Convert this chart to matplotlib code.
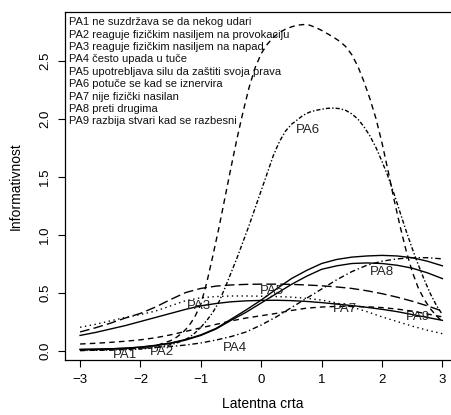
import numpy as np
import matplotlib.pyplot as plt

plt.rcParams['font.family'] = ['Liberation Sans', 'DejaVu Sans']

# theta grid for the flatter curves
theta = np.arange(-3, 3.01, 0.25)

solid_a = [0.010, 0.012, 0.015, 0.020, 0.030, 0.045, 0.065, 0.095, 0.135, 0.190, 0.270, 0.350, 0.435,
           0.530, 0.620, 0.690, 0.750, 0.785, 0.805, 0.815, 0.820, 0.815, 0.800, 0.770, 0.730]
solid_b = [0.008, 0.010, 0.014, 0.020, 0.028, 0.042, 0.062, 0.090, 0.130, 0.185, 0.260, 0.330, 0.410,
           0.490, 0.570, 0.640, 0.700, 0.730, 0.750, 0.755, 0.750, 0.735, 0.710, 0.670, 0.620]
solid_c = [0.130, 0.155, 0.185, 0.215, 0.250, 0.285, 0.320, 0.355, 0.385, 0.405, 0.420, 0.428, 0.432,
           0.433, 0.430, 0.423, 0.413, 0.400, 0.388, 0.372, 0.355, 0.335, 0.310, 0.285, 0.260]
longdash = [0.160, 0.195, 0.235, 0.280, 0.320, 0.375, 0.440, 0.500, 0.535, 0.555, 0.565, 0.570, 0.572,
            0.572, 0.570, 0.565, 0.558, 0.548, 0.535, 0.515, 0.490, 0.460, 0.425, 0.385, 0.340]
dotted = [0.200, 0.225, 0.255, 0.285, 0.310, 0.340, 0.385, 0.430, 0.455, 0.465, 0.470, 0.470, 0.468,
          0.465, 0.460, 0.450, 0.435, 0.410, 0.375, 0.335, 0.290, 0.250, 0.210, 0.175, 0.145]
dashed_low = [0.056, 0.062, 0.070, 0.080, 0.092, 0.110, 0.135, 0.165, 0.195, 0.225, 0.255, 0.280, 0.300,
              0.320, 0.345, 0.365, 0.375, 0.380, 0.380, 0.377, 0.370, 0.357, 0.340, 0.315, 0.290]
dashdot_low = [0.005, 0.006, 0.010, 0.014, 0.020, 0.027, 0.035, 0.047, 0.065, 0.090, 0.120, 0.160, 0.220,
               0.290, 0.370, 0.450, 0.530, 0.610, 0.680, 0.735, 0.770, 0.790, 0.800, 0.800, 0.790]

# the two peaked curves, read on a finer grid
theta_fine = [-3.0, -2.5, -2.0, -1.75, -1.5, -1.4, -1.3, -1.2, -1.1, -1.0, -0.9, -0.8, -0.7, -0.6,
              -0.5, -0.4, -0.3, -0.2, -0.1, 0.0, 0.1, 0.2, 0.3, 0.4, 0.5, 0.6, 0.7, 0.8, 0.9, 1.0,
              1.1, 1.2, 1.3, 1.4, 1.5, 1.6, 1.7, 1.8, 1.9, 2.0, 2.1, 2.2, 2.3, 2.4, 2.5, 2.6, 2.7,
              2.8, 2.9, 3.0]
tall = [0.0, 0.005, 0.02, 0.04, 0.085, 0.115, 0.155, 0.21, 0.29, 0.40, 0.59, 0.82, 1.06, 1.32,
        1.58, 1.83, 2.06, 2.27, 2.44, 2.56, 2.64, 2.70, 2.74, 2.77, 2.79, 2.805, 2.81, 2.805, 2.785, 2.76,
        2.73, 2.70, 2.665, 2.62, 2.55, 2.45, 2.32, 2.17, 2.00, 1.79, 1.55, 1.30, 1.07, 0.86, 0.68, 0.54, 0.44,
        0.36, 0.30, 0.25]
pa6 = [0.0, 0.004, 0.012, 0.025, 0.05, 0.065, 0.085, 0.11, 0.15, 0.20, 0.26, 0.33, 0.42, 0.54,
       0.67, 0.80, 0.94, 1.08, 1.23, 1.38, 1.53, 1.68, 1.80, 1.89, 1.95, 1.99, 2.03, 2.055, 2.07, 2.08,
       2.088, 2.09, 2.085, 2.07, 2.04, 1.995, 1.93, 1.85, 1.75, 1.63, 1.50, 1.35, 1.19, 1.03, 0.88, 0.74, 0.61,
       0.49, 0.39, 0.31]

legend_lines = ["PA1 ne suzdržava se da nekog udari",
                "PA2 reaguje fizičkim nasiljem na provokaciju",
                "PA3 reaguje fizičkim nasiljem na napad",
                "PA4 često upada u tuče",
                "PA5 upotrebljava silu da zaštiti svoja prava",
                "PA6 potuče se kad se iznervira",
                "PA7 nije fizički nasilan",
                "PA8 preti drugima",
                "PA9 razbija stvari kad se razbesni"]

item_labels = ["PA1", "PA2", "PA3", "PA4", "PA5", "PA6", "PA7", "PA8", "PA9"]
label_x = [-2.26, -1.65, -1.04, -0.43, 0.18, 0.78, 1.39, 2.0, 2.6]
label_y = [-0.04, -0.01, 0.38, 0.02, 0.51, 1.9, 0.36, 0.68, 0.29]

fig = plt.figure(figsize=(4.52, 4.15), dpi=100)
ax = fig.add_axes([0.1438, 0.1325, 0.875, 0.8385])

lw = 1.0
ax.plot(theta, solid_a, color='black', lw=lw)
ax.plot(theta, solid_b, color='black', lw=lw)
ax.plot(theta, solid_c, color='black', lw=lw)
ax.plot(theta, longdash, color='black', lw=lw, dashes=(7, 3))
ax.plot(theta, dotted, color='black', lw=lw, dashes=(1, 2.5))
ax.plot(theta, dashed_low, color='black', lw=lw, dashes=(4, 3))
ax.plot(theta, dashdot_low, color='black', lw=lw, dashes=(4, 2, 1, 2))
ax.plot(theta_fine, tall, color='black', lw=lw, dashes=(4, 3))
ax.plot(theta_fine, pa6, color='black', lw=lw, dashes=(3, 1.5, 1, 1.5))

for lab, lx, ly in zip(item_labels, label_x, label_y):
    ax.text(lx, ly, lab, fontsize=9.5, color='#222222', ha='center', va='center')

for i, line in enumerate(legend_lines):
    ax.text(0.01, 0.985 - i * 0.0356, line, transform=ax.transAxes, fontsize=8,
            color='#111111', ha='left', va='top')

ax.set_xlim(-3.25, 3.30)
ax.set_ylim(-0.082, 2.918)
ax.set_xticks([-3, -2, -1, 0, 1, 2, 3])
ax.set_yticks([0.0, 0.5, 1.0, 1.5, 2.0, 2.5])
ax.set_yticklabels(["0.0", "0.5", "1.0", "1.5", "2.0", "2.5"], rotation=90, va='center')
ax.tick_params(labelsize=9.5, length=5, width=0.8, direction='out', pad=5)
ax.spines['right'].set_visible(False)
for s in ax.spines.values():
    s.set_linewidth(0.9)

ax.set_xlabel("Latentna crta", fontsize=10, labelpad=8)
ax.set_ylabel("Informativnost", fontsize=10, labelpad=12)

fig.savefig("out.png", dpi=100)
